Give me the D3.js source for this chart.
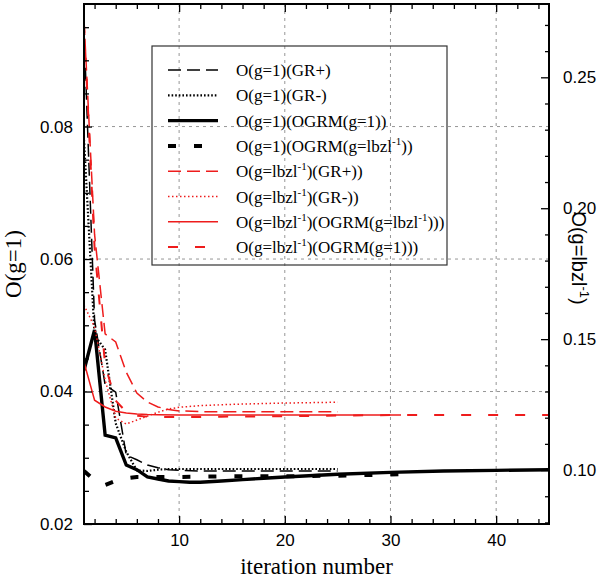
<!DOCTYPE html>
<html>
<head>
<meta charset="utf-8">
<script src="https://cdn.jsdelivr.net/npm/d3@7"></script>
<style>
  body { margin: 0; background: #fff; }
  svg { display: block; }
  .tick text { font-family: "Liberation Sans", Arial, sans-serif; font-size: 17px; fill: #000; }
  .tick line { stroke: #000; stroke-width: 1.3; }
</style>
</head>
<body>
<div id="chart"></div>
<script>
// iteration numbers read for each run
var itShort = [1, 2, 3, 4, 5, 6, 7, 8, 9, 10, 12, 15, 20, 25];
var itMid = [1, 2, 3, 4, 5, 6, 7, 8, 10, 15, 20, 25, 31];
var itLong = [1, 2, 3, 4, 5, 6, 7, 8, 9, 10, 11, 12, 14, 16, 18, 20, 25, 30, 35, 40, 45];

// O(g=1), left axis
var g1GRplus = [0.0946, 0.0508, 0.0410, 0.0399, 0.0304, 0.0297, 0.0289, 0.0285, 0.0282, 0.0281, 0.0280, 0.0280, 0.0280, 0.0280];
var g1GRminus = [0.0780, 0.0485, 0.0463, 0.0352, 0.0309, 0.0281, 0.0280, 0.0282, 0.0283, 0.0283, 0.0283, 0.0283, 0.0283, 0.0283];
var g1OGRMg1 = [0.0432, 0.0493, 0.0334, 0.0330, 0.0289, 0.0282, 0.0271, 0.0268, 0.0265, 0.0264, 0.0263, 0.0263, 0.0265, 0.0267, 0.0269, 0.0271, 0.0275, 0.0278, 0.0280, 0.0281, 0.0282];
var g1OGRMbz = [0.0280, 0.0266, 0.0259, 0.0265, 0.0269, 0.0271, 0.0271, 0.0271, 0.0271, 0.0272, 0.0272, 0.0273, 0.0275];

// O(g=|bz|^-1), right axis
var bzGRplus = [0.272, 0.190, 0.152, 0.1489, 0.1374, 0.1294, 0.1260, 0.1241, 0.1231, 0.1226, 0.1223, 0.1223, 0.1223, 0.1223];
var bzGRminus = [0.163, 0.1546, 0.1344, 0.1199, 0.1176, 0.1191, 0.1206, 0.1221, 0.1233, 0.1240, 0.1246, 0.1251, 0.1256, 0.1259];
var bzOGRMbz = [0.1412, 0.1267, 0.1241, 0.1225, 0.1218, 0.1214, 0.1212, 0.1211, 0.1210, 0.1210, 0.1210, 0.1210, 0.1210];
var bzOGRMg1 = [0.270, 0.185, 0.140, 0.1265, 0.1222, 0.1208, 0.1204, 0.1203, 0.1203, 0.1203, 0.1203, 0.1203, 0.1204, 0.1205, 0.1205, 0.1206, 0.1208, 0.1210, 0.1210, 0.1210, 0.1210];

// legend labels, odd pieces are superscripts
var legendLabels = [
    ["O(g=1)(GR+)"],
    ["O(g=1)(GR-)"],
    ["O(g=1)(OGRM(g=1))"],
    ["O(g=1)(OGRM(g=lbzl", "-1", "))"],
    ["O(g=lbzl", "-1", ")(GR+))"],
    ["O(g=lbzl", "-1", ")(GR-))"],
    ["O(g=lbzl", "-1", ")(OGRM(g=lbzl", "-1", ")))"],
    ["O(g=lbzl", "-1", ")(OGRM(g=1)))"]
];

var xTicks = [10, 20, 30, 40];
var leftTicks = [0.02, 0.04, 0.06, 0.08];
var rightTicks = [0.10, 0.15, 0.20, 0.25];

var width = 600, height = 579;
var plot = { left: 84, right: 549, top: 4, bottom: 524 };
var red = "#ee1c1c";

var svg = d3.select("#chart").append("svg")
    .attr("width", width)
    .attr("height", height);

var x = d3.scaleLinear().domain([1, 45]).range([plot.left, plot.right]);
var yL = d3.scaleLinear().domain([0.02, 0.0985]).range([plot.bottom, plot.top]);
var yR = d3.scaleLinear().domain([0.0794, 0.278]).range([plot.bottom, plot.top]);

svg.append("clipPath").attr("id", "clip")
    .append("rect")
    .attr("x", plot.left).attr("y", plot.top)
    .attr("width", plot.right - plot.left).attr("height", plot.bottom - plot.top);

// grid
var grid = svg.append("g").attr("stroke", "#8a8a8a").attr("stroke-width", 0.9).attr("stroke-dasharray", "3,4");
grid.selectAll(".gx").data(xTicks).enter().append("line")
    .attr("x1", d => x(d)).attr("x2", d => x(d))
    .attr("y1", plot.top).attr("y2", plot.bottom);
grid.selectAll(".gy").data(leftTicks.slice(1)).enter().append("line")
    .attr("x1", plot.left).attr("x2", plot.right)
    .attr("y1", d => yL(d)).attr("y2", d => yL(d));

// series
var series = [
    { it: itShort, v: g1GRplus, y: yL, color: "#000", w: 1.5, dash: "13,6" },
    { it: itShort, v: g1GRminus, y: yL, color: "#000", w: 2.2, dash: "1.6,2" },
    { it: itLong, v: g1OGRMg1, y: yL, color: "#000", w: 3.4, dash: null },
    { it: itMid, v: g1OGRMbz, y: yL, color: "#000", w: 4, dash: "8,18" },
    { it: itShort, v: bzGRplus, y: yR, color: red, w: 1.5, dash: "13,6" },
    { it: itShort, v: bzGRminus, y: yR, color: red, w: 1.5, dash: "1.5,2.5" },
    { it: itMid, v: bzOGRMbz, y: yR, color: red, w: 1.5, dash: null },
    { it: itLong, v: bzOGRMg1, y: yR, color: red, w: 2, dash: "10,17" }
];

var lines = svg.append("g").attr("clip-path", "url(#clip)");
series.forEach(function (s) {
    var line = d3.line()
        .x(function (d, i) { return x(s.it[i]); })
        .y(function (d) { return s.y(d); });
    lines.append("path")
        .attr("d", line(s.v))
        .attr("fill", "none")
        .attr("stroke", s.color)
        .attr("stroke-width", s.w)
        .attr("stroke-dasharray", s.dash);
});

// axes, ticks pointing inward
var xMinor = d3.range(2, 45, 2).filter(d => d % 10 != 0);
svg.append("g").attr("transform", `translate(0,${plot.bottom})`)
    .call(d3.axisBottom(x).tickValues(xTicks).tickSizeInner(-8).tickSizeOuter(0).tickPadding(10).tickFormat(d3.format("d")));
svg.append("g").attr("transform", `translate(0,${plot.bottom})`)
    .call(d3.axisBottom(x).tickValues(xMinor).tickSizeInner(-5).tickSizeOuter(0).tickFormat(""));
svg.append("g").attr("transform", `translate(0,${plot.top})`)
    .call(d3.axisTop(x).tickValues(xTicks).tickSizeInner(-8).tickSizeOuter(0).tickFormat(""));
svg.append("g").attr("transform", `translate(0,${plot.top})`)
    .call(d3.axisTop(x).tickValues(xMinor).tickSizeInner(-5).tickSizeOuter(0).tickFormat(""));

var leftMinor = d3.range(0.025, 0.098, 0.005).filter(d => Math.abs(d / 0.02 - Math.round(d / 0.02)) > 0.01);
svg.append("g").attr("transform", `translate(${plot.left},0)`)
    .call(d3.axisLeft(yL).tickValues(leftTicks).tickSizeInner(-8).tickSizeOuter(0).tickPadding(11).tickFormat(d3.format(".2f")));
svg.append("g").attr("transform", `translate(${plot.left},0)`)
    .call(d3.axisLeft(yL).tickValues(leftMinor).tickSizeInner(-5).tickSizeOuter(0).tickFormat(""));

var rightMinor = d3.range(0.08, 0.275, 0.01).filter(d => Math.abs(d / 0.05 - Math.round(d / 0.05)) > 0.01);
svg.append("g").attr("transform", `translate(${plot.right},0)`)
    .call(d3.axisRight(yR).tickValues(rightTicks).tickSizeInner(-8).tickSizeOuter(0).tickPadding(14).tickFormat(d3.format(".2f")));
svg.append("g").attr("transform", `translate(${plot.right},0)`)
    .call(d3.axisRight(yR).tickValues(rightMinor).tickSizeInner(-4).tickSizeOuter(0).tickFormat(""));

svg.selectAll(".domain").remove();

// frame
svg.append("rect")
    .attr("x", plot.left).attr("y", plot.top)
    .attr("width", plot.right - plot.left).attr("height", plot.bottom - plot.top)
    .attr("fill", "none").attr("stroke", "#000").attr("stroke-width", 2);

// axis titles
svg.append("text")
    .attr("x", (plot.left + plot.right) / 2).attr("y", 574)
    .attr("text-anchor", "middle")
    .style("font-family", "'Liberation Serif', 'Times New Roman', serif")
    .style("font-size", "23px")
    .text("iteration number");

svg.append("text")
    .attr("transform", "translate(21,264) rotate(-90)")
    .attr("text-anchor", "middle")
    .style("font-family", "'Liberation Serif', 'Times New Roman', serif")
    .style("font-size", "23px")
    .text("O(g=1)");

var rt = svg.append("text")
    .attr("transform", "translate(572,258) rotate(90)")
    .attr("text-anchor", "middle")
    .style("font-family", "'Liberation Sans', Arial, sans-serif")
    .style("font-size", "20px");
rt.append("tspan").text("O(g=lbzl");
rt.append("tspan").attr("dy", -8).style("font-size", "13px").text("-1");
rt.append("tspan").attr("dy", 8).text(")");

// legend
var lg = svg.append("g");
lg.append("rect")
    .attr("x", 152).attr("y", 46).attr("width", 295).attr("height", 219)
    .attr("fill", "none").attr("stroke", "#333").attr("stroke-width", 1.2);

legendLabels.forEach(function (parts, i) {
    var s = series[i];
    var cy = 70 + i * 25.3;
    lg.append("line")
        .attr("x1", 168).attr("x2", 218)
        .attr("y1", cy).attr("y2", cy)
        .attr("stroke", s.color)
        .attr("stroke-width", s.w)
        .attr("stroke-dasharray", s.dash);
    var t = lg.append("text")
        .attr("x", 236).attr("y", cy + 6)
        .style("font-family", "'Liberation Serif', 'Times New Roman', serif")
        .style("font-size", "17px");
    parts.forEach(function (p, k) {
        if (k % 2 == 1) {
            t.append("tspan").attr("dy", -7).style("font-size", "11px").text(p);
        } else {
            t.append("tspan").attr("dy", k > 0 ? 7 : 0).text(p);
        }
    });
});
</script>
</body>
</html>
